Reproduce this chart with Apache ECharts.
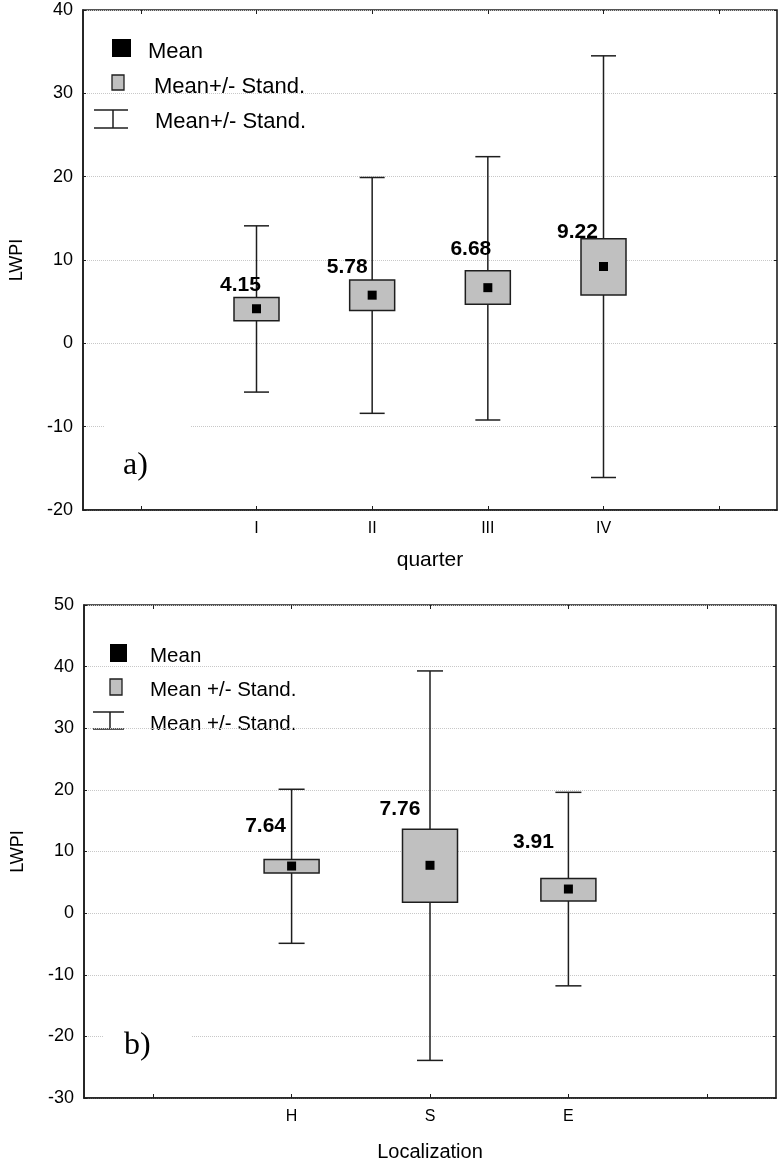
<!DOCTYPE html>
<html><head><meta charset="utf-8">
<script src="https://cdn.jsdelivr.net/npm/echarts@6/dist/echarts.min.js"></script>
<style>html,body{margin:0;padding:0;background:#fff}#c{width:780px;height:1165px}</style>
</head><body><div id="c"></div>
<script>
// ---- Panel a) data ----
const quarters = ['I', 'II', 'III', 'IV'];
const qMean = [4.15, 5.78, 6.68, 9.22];
const qBoxLow = [2.7, 3.95, 4.7, 5.8];
const qBoxHigh = [5.5, 7.6, 8.7, 12.55];
const qWhiskLow = [-5.85, -8.4, -9.2, -16.1];
const qWhiskHigh = [14.1, 19.9, 22.4, 34.5];
const qYMin = -20, qYMax = 40, qYStep = 10;

// ---- Panel b) data ----
const places = ['H', 'S', 'E'];
const lMean = [7.64, 7.76, 3.91];
const lBoxLow = [6.5, 1.75, 1.95];
const lBoxHigh = [8.7, 13.6, 5.6];
const lWhiskLow = [-4.9, -23.9, -11.8];
const lWhiskHigh = [20.1, 39.3, 19.6];
const lYMin = -30, lYMax = 50, lYStep = 10;

const legendLabels = ['Mean', 'Mean+/- Stand.', 'Mean+/- Stand.'];
const legendLabelsB = ['Mean', 'Mean +/- Stand.', 'Mean +/- Stand.'];

const INK = '#1e1e1e';
const SANS = '"Liberation Sans", Arial, sans-serif';
const NARROW = '"Liberation Sans Narrow", "Liberation Sans", Arial, sans-serif';

function buildRows(means, bl, bh, wl, wh) {
  return means.map((m, i) => [i + 1, m, bl[i], bh[i], wl[i], wh[i]]);
}

function makeRender(boxW, capW, labelOffsets) {
  return function (params, api) {
    const x = api.value(0);
    const mean = api.value(1);
    const pM = api.coord([x, mean]);
    const pBL = api.coord([x, api.value(2)]);
    const pBH = api.coord([x, api.value(3)]);
    const pWL = api.coord([x, api.value(4)]);
    const pWH = api.coord([x, api.value(5)]);
    const cx = pM[0];
    const ls = { stroke: INK, lineWidth: 1.5 };
    const off = labelOffsets[params.dataIndex];
    return {
      type: 'group',
      children: [
        { type: 'line', shape: { x1: cx, y1: pWH[1], x2: cx, y2: pWL[1] }, style: ls },
        { type: 'line', shape: { x1: cx - capW / 2, y1: pWH[1], x2: cx + capW / 2, y2: pWH[1] }, style: ls },
        { type: 'line', shape: { x1: cx - capW / 2, y1: pWL[1], x2: cx + capW / 2, y2: pWL[1] }, style: ls },
        { type: 'rect', shape: { x: cx - boxW / 2, y: pBH[1], width: boxW, height: pBL[1] - pBH[1] },
          style: { fill: '#c0c0c0', stroke: INK, lineWidth: 1.5 } },
        { type: 'rect', shape: { x: cx - 4.5, y: pM[1] - 4.5, width: 9, height: 9 }, style: { fill: '#000' } },
        { type: 'text', style: { text: mean.toFixed(2), x: cx + off[0], y: pBH[1] + off[1],
          align: 'center', verticalAlign: 'middle', font: 'bold 21px ' + SANS, fill: '#000' } }
      ]
    };
  };
}

function xAxes(gridIndex, cats, name, labelFont, nameGap, nameSize) {
  return [
    { gridIndex, type: 'category', data: cats, boundaryGap: true,
      axisLine: { show: true, onZero: false, lineStyle: { color: INK, width: 1.6 } },
      axisTick: { show: true, inside: true, alignWithLabel: true, length: 4, lineStyle: { color: INK } },
      axisLabel: { fontSize: 16, margin: 11, color: '#000', fontFamily: labelFont },
      splitLine: { show: false },
      name, nameLocation: 'middle', nameGap,
      nameTextStyle: { fontSize: nameSize, color: '#000', fontFamily: labelFont } },
    { gridIndex, type: 'category', data: cats, boundaryGap: true, position: 'top',
      axisLine: { show: false, onZero: false },
      axisTick: { show: true, inside: true, alignWithLabel: true, length: 4, lineStyle: { color: INK } },
      axisLabel: { show: false }, splitLine: { show: false } }
  ];
}

function yAxes(gridIndex, min, max, step) {
  return [
    { gridIndex, type: 'value', min, max, interval: step,
      axisLine: { show: true, onZero: false, lineStyle: { color: INK, width: 1.6 } },
      axisTick: { show: true, inside: true, length: 3, lineStyle: { color: INK } },
      axisLabel: { fontSize: 18, margin: 10, color: '#000', fontFamily: SANS },
      splitLine: { show: true, lineStyle: { type: 'dotted', color: '#c8c8c8', width: 1 } },
      name: 'LWPI', nameLocation: 'middle', nameGap: 57, nameRotate: 90,
      nameTextStyle: { fontSize: 18, color: '#000', fontFamily: SANS } },
    { gridIndex, type: 'value', min, max, interval: step, position: 'right',
      axisLine: { show: false, onZero: false },
      axisTick: { show: true, inside: true, length: 3, lineStyle: { color: INK } },
      axisLabel: { show: false }, splitLine: { show: false } }
  ];
}

function legend(textX, rowsY, labels, fontSize, icons) {
  const els = [];
  els.push({ type: 'rect', shape: icons.black, style: { fill: '#000' } });
  els.push({ type: 'rect', shape: icons.gray, style: { fill: '#c0c0c0', stroke: INK, lineWidth: 1.3 } });
  const e = icons.err;
  els.push({ type: 'line', shape: { x1: e.x1, y1: e.y1, x2: e.x2, y2: e.y1 }, style: { stroke: INK, lineWidth: 1.5 } });
  els.push({ type: 'line', shape: { x1: e.x1, y1: e.y2, x2: e.x2, y2: e.y2 }, style: { stroke: INK, lineWidth: 1.5 } });
  els.push({ type: 'line', shape: { x1: e.xm, y1: e.y1, x2: e.xm, y2: e.y2 }, style: { stroke: INK, lineWidth: 1.5 } });
  labels.forEach((t, i) => {
    els.push({ type: 'text', style: { text: t, x: textX[i], y: rowsY[i], verticalAlign: 'middle',
      font: fontSize + 'px ' + SANS, fill: '#000' } });
  });
  return els;
}

const topCats = [' ', ...quarters, '  '];
const botCats = [' ', ...places, '  '];

const chart = echarts.init(document.getElementById('c'), null, { renderer: 'canvas' });
chart.setOption({
  animation: false,
  backgroundColor: '#fff',
  grid: [
    { left: 82, top: 10, width: 695, height: 500, show: true, borderColor: INK, borderWidth: 1.6 },
    { left: 84, top: 605, width: 692, height: 493, show: true, borderColor: INK, borderWidth: 1.6 }
  ],
  xAxis: [
    ...xAxes(0, topCats, 'quarter', NARROW, 40, 21),
    ...xAxes(1, botCats, 'Localization', SANS, 44, 20)
  ],
  yAxis: [
    ...yAxes(0, qYMin, qYMax, qYStep),
    ...yAxes(1, lYMin, lYMax, lYStep)
  ],
  series: [
    { type: 'custom', xAxisIndex: 0, yAxisIndex: 0,
      renderItem: makeRender(45, 25, [[-16, -12], [-25, -13], [-17, -22], [-26, -7]]),
      data: buildRows(qMean, qBoxLow, qBoxHigh, qWhiskLow, qWhiskHigh), z: 5 },
    { type: 'custom', xAxisIndex: 2, yAxisIndex: 2,
      renderItem: makeRender(55, 26, [[-26, -33], [-30, -20], [-35, -36]]),
      data: buildRows(lMean, lBoxLow, lBoxHigh, lWhiskLow, lWhiskHigh), z: 5 }
  ],
  graphic: [
    ...legend([148, 154, 155], [51.5, 86.5, 122], legendLabels, 22, {
      black: { x: 112, y: 39, width: 19, height: 18 },
      gray: { x: 112, y: 75, width: 12, height: 15 },
      err: { x1: 94, x2: 128, xm: 113, y1: 110, y2: 128 }
    }),
    ...legend([150, 150, 150], [656.5, 690.5, 724], legendLabelsB, 20.5, {
      black: { x: 110, y: 644, width: 17, height: 18 },
      gray: { x: 110, y: 679, width: 12, height: 16 },
      err: { x1: 93, x2: 124, xm: 110, y1: 712, y2: 729 }
    }),
    { type: 'rect', shape: { x: 104, y: 423, width: 87, height: 7 }, style: { fill: '#fff' }, z: 10 },
    { type: 'rect', shape: { x: 104, y: 1033, width: 87, height: 7 }, style: { fill: '#fff' }, z: 10 },
    { type: 'text', style: { text: 'a)', x: 123, y: 466, verticalAlign: 'middle',
      font: '32px "Liberation Serif", "Times New Roman", serif', fill: '#000' }, z: 11 },
    { type: 'text', style: { text: 'b)', x: 124, y: 1046, verticalAlign: 'middle',
      font: '32px "Liberation Serif", "Times New Roman", serif', fill: '#000' }, z: 11 }
  ]
});
</script>
</body></html>
